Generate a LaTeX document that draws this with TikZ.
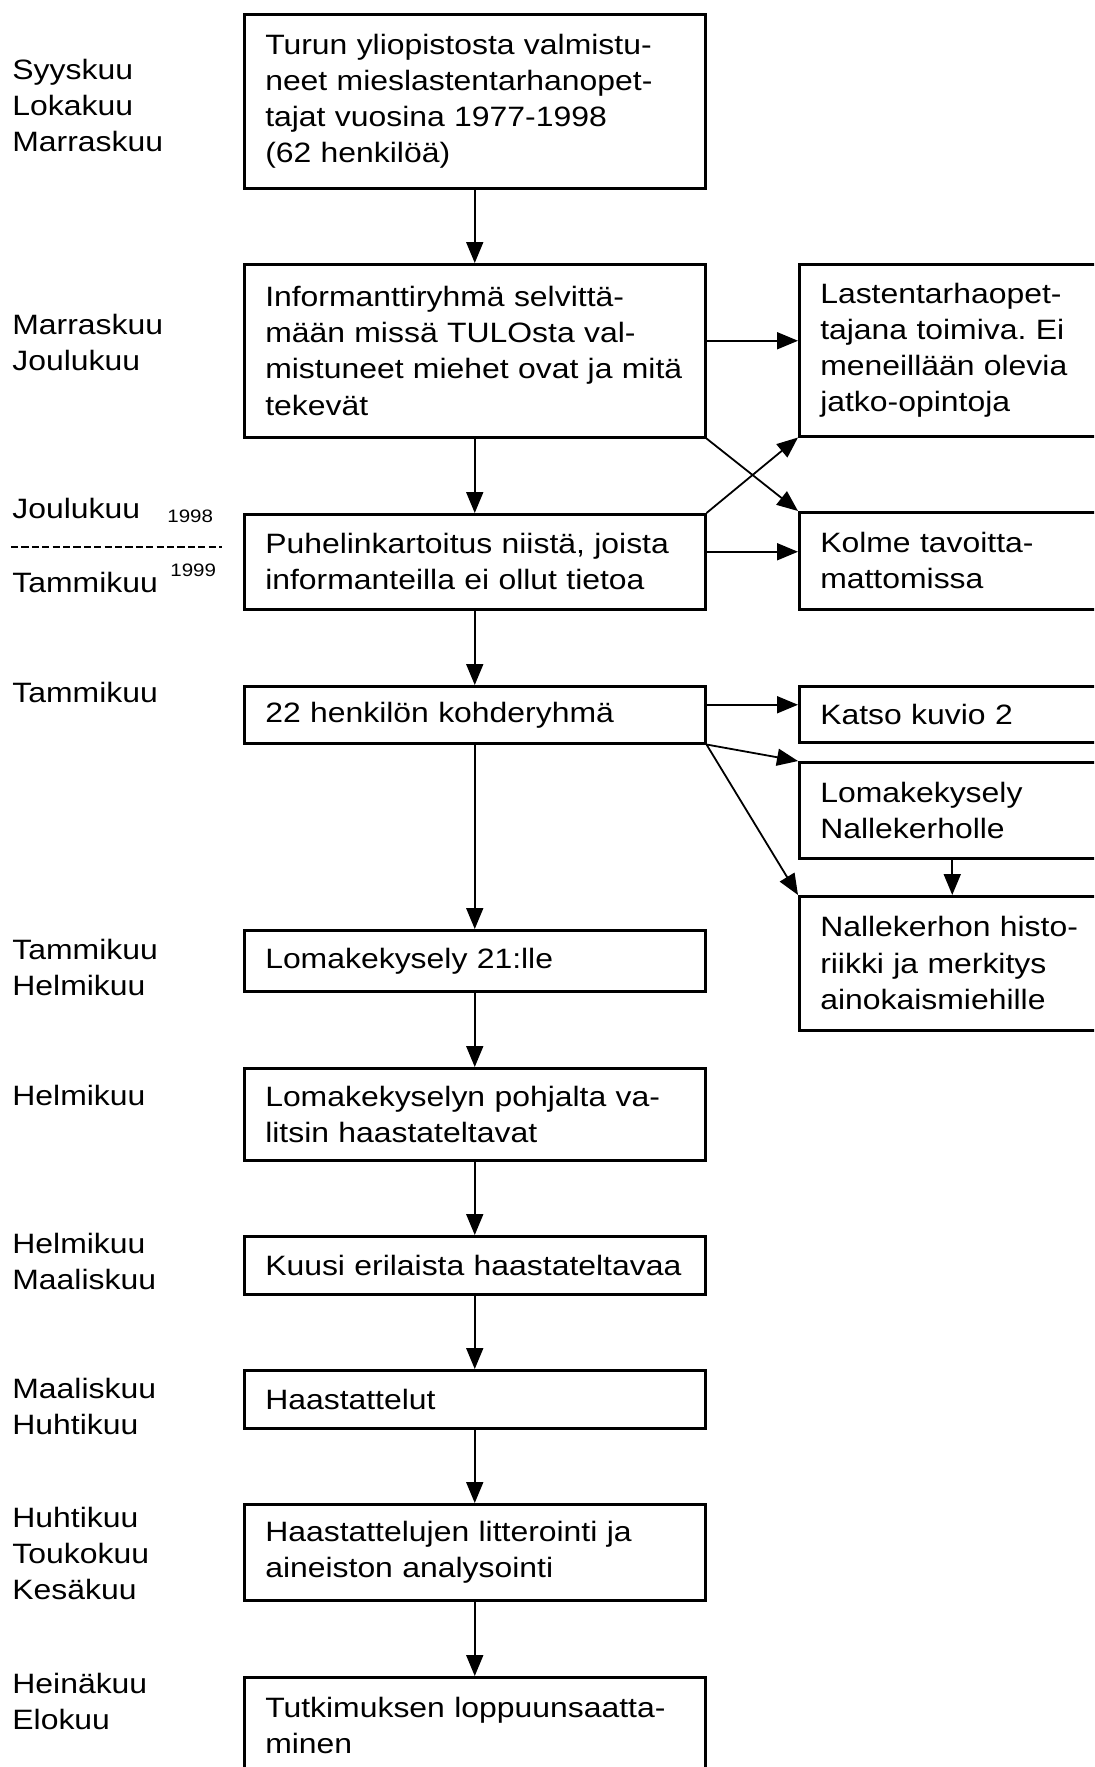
\documentclass[tikz,border=0pt]{standalone}
\usepackage{fontspec}
\setmainfont{Liberation Sans}[FakeStretch=1.14]
\usetikzlibrary{arrows.meta}
\frenchspacing

\begin{document}
\begin{tikzpicture}[x=1pt, y=-1pt,
  box/.style={draw, line width=1.25pt, rectangle, anchor=north west, align=left,
    inner xsep=10.5pt, inner ysep=0pt, font=\fontsize{14pt}{18.15pt}\selectfont},
  mainbox/.style={box, text width=209.5pt},
  sidebox/.style={box, text width=132pt},
  month/.style={anchor=base west, align=left, text width=100pt, inner sep=0pt,
    font=\fontsize{14pt}{18.15pt}\selectfont},
  year/.style={anchor=base west, inner sep=0pt, font=\fontsize{9pt}{10pt}\selectfont},
  arr/.style={->, >={Triangle[length=10.5pt, width=8.5pt]}, line width=0.9pt}]
\def \lx {6}    % left edge of the month column
\def \mx {121.5} % left edge of the main column
\def \sx {399}  % left edge of the side column

\useasboundingbox (0,0) rectangle (547,883.5);
\clip (0,0) rectangle (547,883.5);

% main column
\node[mainbox, minimum height=87pt] (tutkinto) at (\mx,6.5)
  {Turun yliopistosta valmistu-\\neet mieslastentarhanopet-\\tajat vuosina 1977-1998\\(62 henkilöä)};
\node[mainbox, minimum height=86.5pt] (informantit) at (\mx,131.5)
  {Informanttiryhmä selvittä-\\mään missä TULOsta val-\\mistuneet miehet ovat ja mitä\\tekevät};
\node[mainbox, minimum height=47.5pt] (puhelin) at (\mx,256.5)
  {Puhelinkartoitus niistä, joista\\informanteilla ei ollut tietoa};
\node[mainbox, minimum height=28.5pt] (kohde) at (\mx,342.5) {22 henkilön kohderyhmä};
\node[mainbox, minimum height=30.5pt] (kysely) at (\mx,464.5) {Lomakekysely 21:lle};
\node[mainbox, minimum height=46pt] (valinta) at (\mx,533.5)
  {Lomakekyselyn pohjalta va-\\litsin haastateltavat};
\node[mainbox, minimum height=29pt] (kuusi) at (\mx,617.5) {Kuusi erilaista haastateltavaa};
\node[mainbox, minimum height=29pt] (haastattelut) at (\mx,684.5) {Haastattelut};
\node[mainbox, minimum height=48pt] (litterointi) at (\mx,751.5)
  {Haastattelujen litterointi ja\\aineiston analysointi};
\node[mainbox, minimum height=48pt] (loppu) at (\mx,838)
  {Tutkimuksen loppuunsaatta-\\minen};

% side column
\node[sidebox, minimum height=86pt] (opettaja) at (\sx,131.5)
  {Lastentarhaopet-\\tajana toimiva. Ei\\meneillään olevia\\jatko-opintoja};
\node[sidebox, minimum height=48.5pt] (tavoittamaton) at (\sx,255.5)
  {Kolme tavoitta-\\mattomissa};
\node[sidebox, minimum height=28pt] (kuvio) at (\sx,342.5) {Katso kuvio 2};
\node[sidebox, minimum height=48pt] (nalle) at (\sx,380.5) {Lomakekysely\\Nallekerholle};
\node[sidebox, minimum height=67pt] (historia) at (\sx,447.5)
  {Nallekerhon histo-\\riikki ja merkitys\\ainokaismiehille};

% months
\node[month] (m1) at (\lx,39.5) {Syyskuu\\Lokakuu\\Marraskuu};
\node[month] (m2) at (\lx,167) {Marraskuu\\Joulukuu};
\node[month] (m3a) at (\lx,259) {Joulukuu};
\node[year] (v1998) at (83.5,261) {1998};
\draw[line width=1pt, dash pattern=on 3.6pt off 1.6pt] (5.5,273.5) -- (111,273.5);
\node[month] (m3b) at (\lx,296) {Tammikuu};
\node[year] (v1999) at (85,288) {1999};
\node[month] (m4) at (\lx,351) {Tammikuu};
\node[month] (m5) at (\lx,479.5) {Tammikuu\\Helmikuu};
\node[month] (m6) at (\lx,552.5) {Helmikuu};
\node[month] (m7) at (\lx,626.5) {Helmikuu\\Maaliskuu};
\node[month] (m8) at (\lx,699) {Maaliskuu\\Huhtikuu};
\node[month] (m9) at (\lx,763.5) {Huhtikuu\\Toukokuu\\Kesäkuu};
\node[month] (m10) at (\lx,846.5) {Heinäkuu\\Elokuu};

% arrows
\draw[arr] (tutkinto.south) -- (informantit.north);
\draw[arr] (informantit.south) -- (puhelin.north);
\draw[arr] (puhelin.south) -- (kohde.north);
\draw[arr] (kohde.south) -- (kysely.north);
\draw[arr] (kysely.south) -- (valinta.north);
\draw[arr] (valinta.south) -- (kuusi.north);
\draw[arr] (kuusi.south) -- (haastattelut.north);
\draw[arr] (haastattelut.south) -- (litterointi.north);
\draw[arr] (litterointi.south) -- (loppu.north);

\draw[arr] ([yshift=5pt]informantit.east) -- ([yshift=5pt]informantit.east -| opettaja.west);
\draw[arr] (informantit.south east) -- (tavoittamaton.north west);
\draw[arr] (puhelin.north east) -- (opettaja.south west);
\draw[arr] ([yshift=5pt]puhelin.east) -- ([yshift=5pt]puhelin.east -| tavoittamaton.west);
\draw[arr] ([yshift=5pt]kohde.east) -- ([yshift=5pt]kohde.east -| kuvio.west);
\draw[arr] (kohde.south east) -- (nalle.north west);
\draw[arr] (kohde.south east) -- (historia.north west);
\draw[arr] (nalle.south) -- (historia.north);
\end{tikzpicture}
\end{document}
